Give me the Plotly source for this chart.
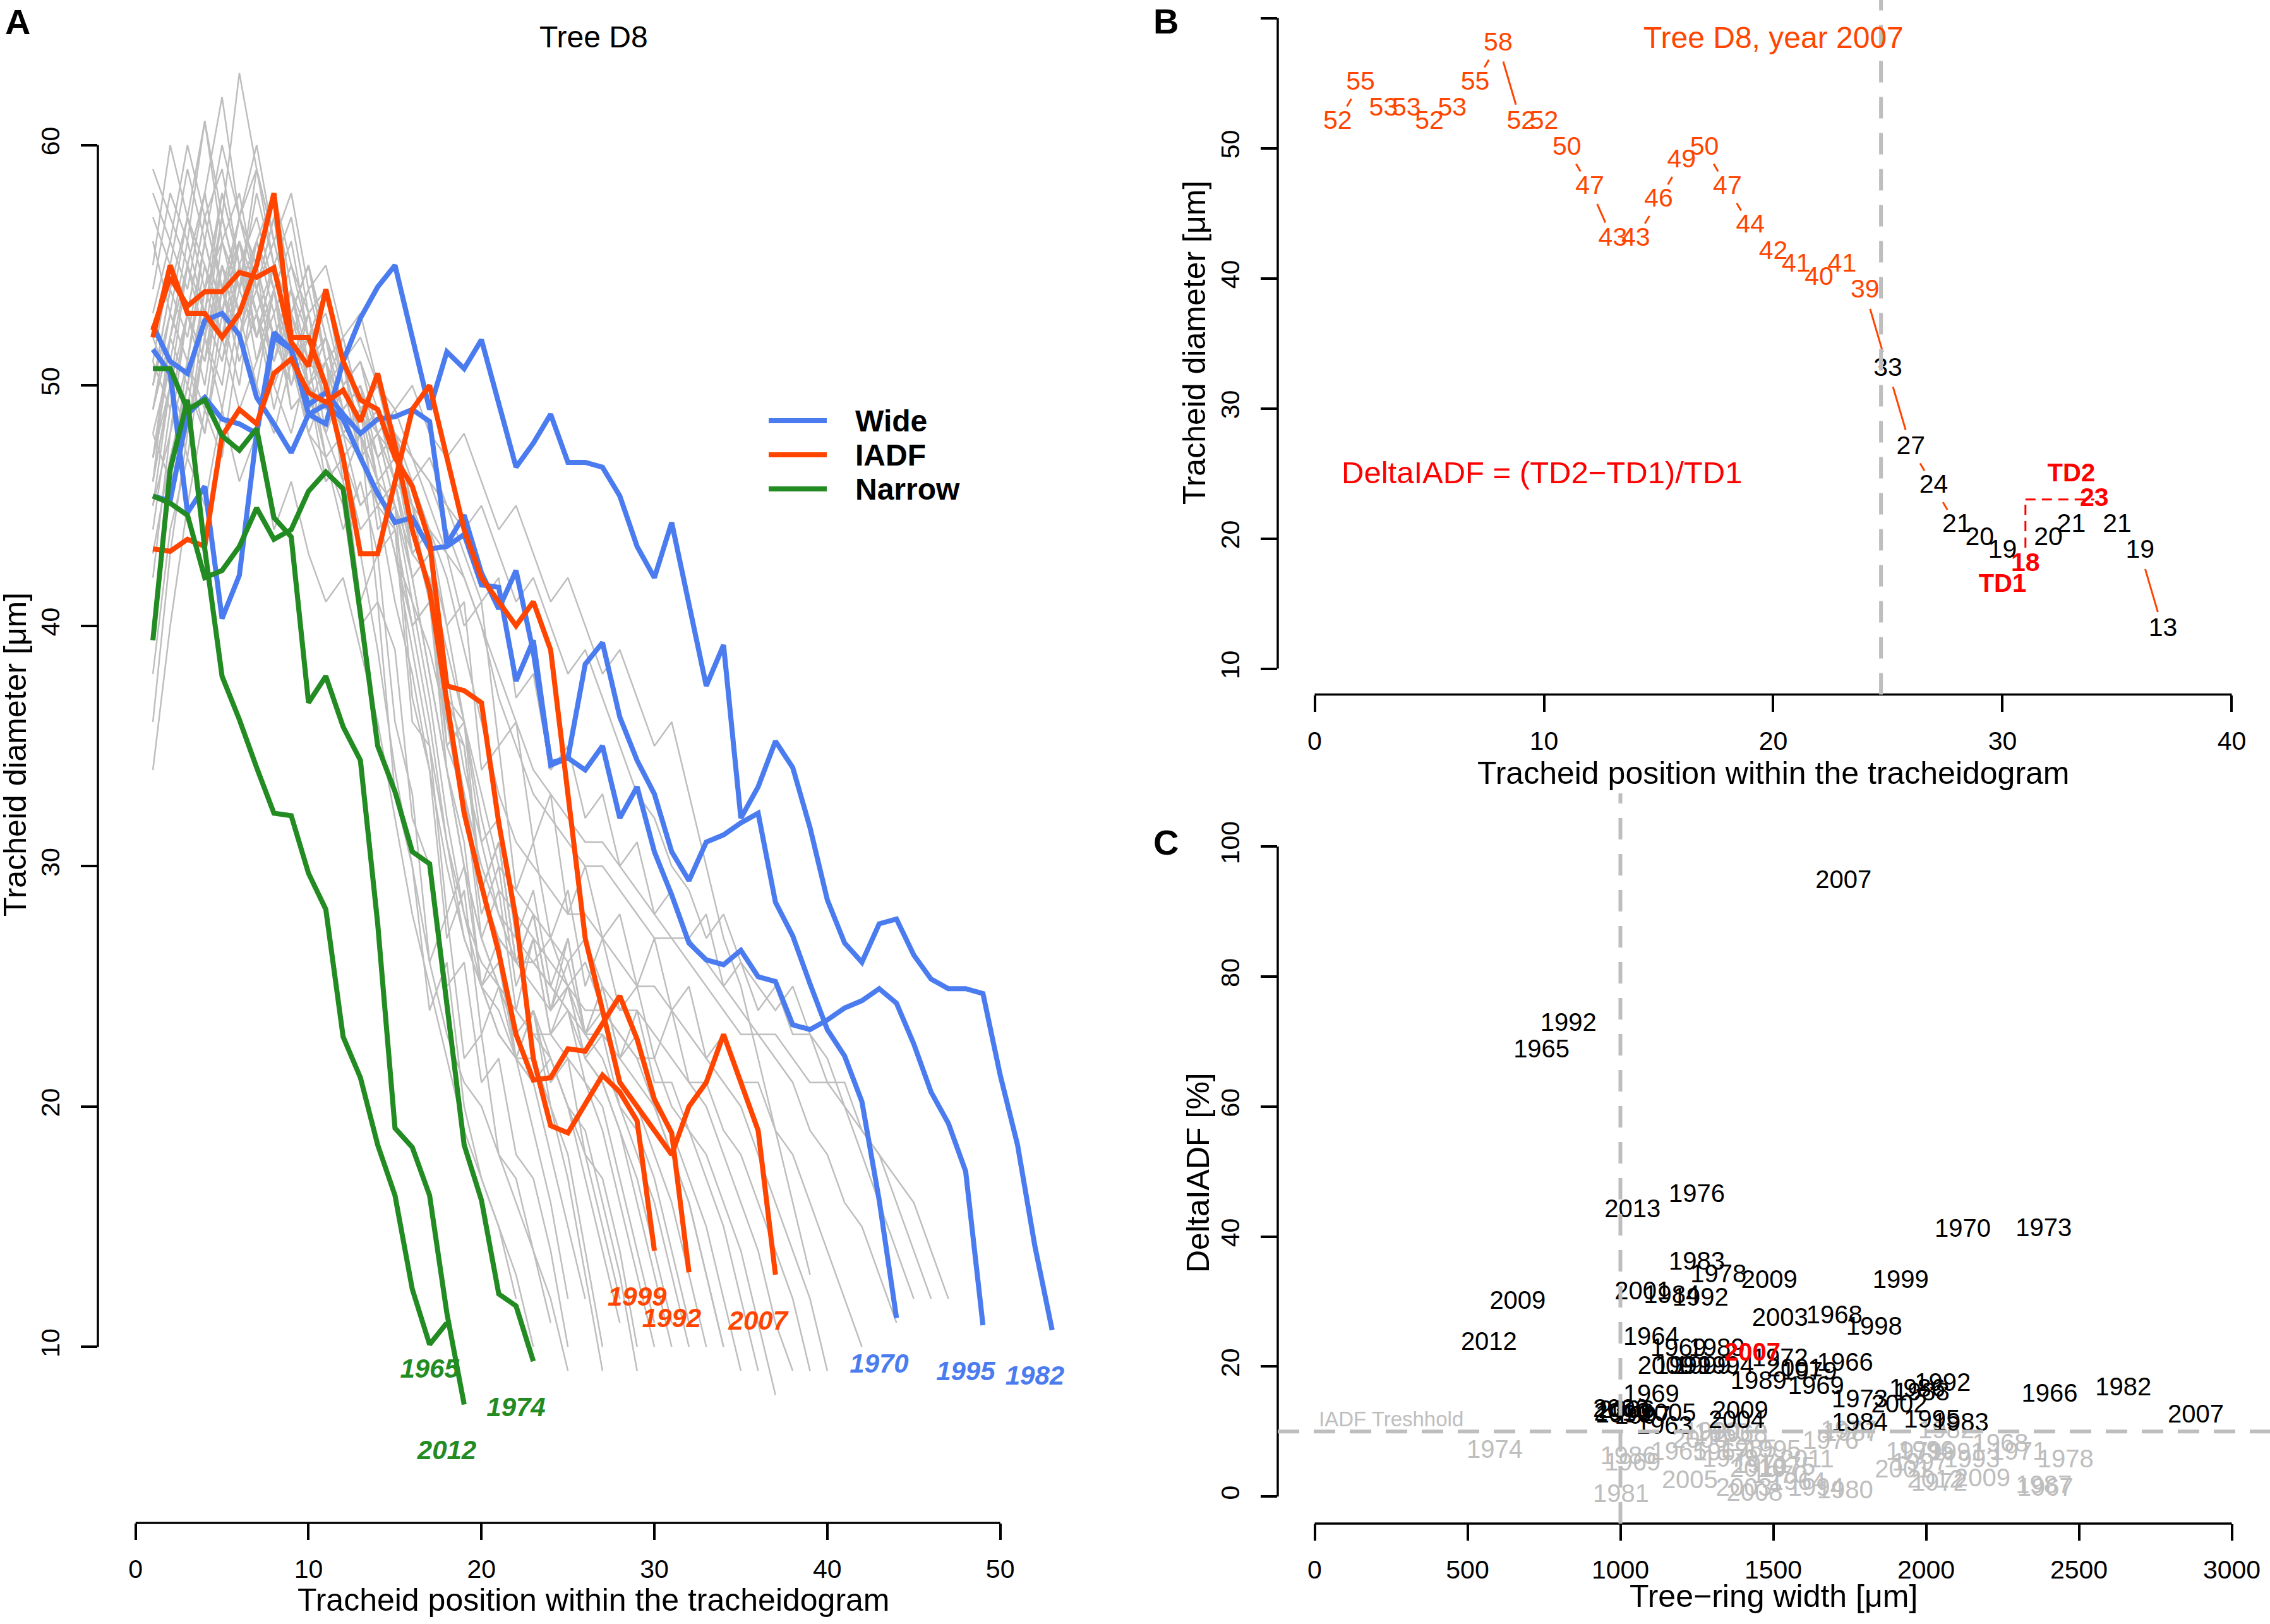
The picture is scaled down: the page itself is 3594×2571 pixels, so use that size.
import plotly.graph_objects as go

W, H = 3594, 2571
FONT = "Liberation Sans, Arial, Helvetica, sans-serif"
BLUE = "#4A7CF0"
ORANGE = "#FF4500"
GREEN = "#228B22"
GREY = "#BEBEBE"
RED = "#FF0000"

# ---------------- Panel A : tracheidograms of tree D8 ----------------
grey_01 = [51,55,53,57,54,52,55,50,48,51,47,45,40,41,33,30,24,26,20,17,15,12]
grey_02 = [46,52,56,53,58,55,51,54,49,50,46,47,41,43,36,33,26,28,22,23,18,17,14,11]
grey_03 = [55,60,57,61,56,58,54,57,52,50,51,46,48,41,39,32,30,25,26,21,22,18,17,14,10]
grey_04 = [42,48,51,49,54,51,53,49,52,48,46,47,44,45,41,38,34,30,27,25,23,22,21,18,15,12]
grey_05 = [49,53,51,56,53,57,55,52,54,50,52,48,49,44,45,37,34,27,29,23,25,22,19,16,12]
grey_06 = [57,55,59,56,60,57,54,56,53,55,51,49,50,46,43,39,35,31,27,25,24,22,22,20,17,13,9]
grey_07 = [45,50,47,52,49,53,50,48,51,48,47,44,46,43,44,36,35,28,30,25,26,22,24,20,18,14,10]
grey_08 = [36,43,48,52,50,55,53,51,54,50,49,51,47,45,46,42,38,34,30,27,25,24,23,22,20,17,14,11]
grey_09 = [53,56,54,58,62,57,59,55,57,53,54,50,51,48,45,41,37,32,28,26,25,23,24,22,20,18,15,12]
grey_10 = [48,46,50,48,52,49,51,53,49,50,47,48,45,46,43,40,41,34,31,25,27,22,24,21,22,18,17,14,10]
grey_11 = [50,54,57,55,53,56,52,55,51,53,50,48,49,47,44,40,36,31,28,25,23,22,21,22,20,19,16,13,9]
grey_12 = [44,49,53,51,56,54,58,55,52,54,51,49,50,47,48,43,44,36,33,27,29,24,27,23,24,21,20,17,14,11]
grey_13 = [58,56,60,57,59,55,57,54,56,52,53,50,48,49,46,42,38,34,30,27,25,24,23,23,22,21,19,16,13,10]
grey_14 = [47,51,49,54,52,55,53,50,52,49,50,47,48,45,44,40,41,35,33,28,30,25,27,23,25,22,21,19,16,13,10]
grey_15 = [52,50,55,53,57,54,59,56,53,55,51,52,49,47,48,45,41,36,32,29,27,26,26,25,24,22,21,19,17,14,11]
grey_16 = [40,46,51,48,53,50,55,52,50,53,49,51,48,46,47,43,44,37,35,29,31,26,28,24,25,22,23,20,19,17,14,11]
grey_17 = [54,58,56,61,57,63,59,56,58,54,55,52,53,50,48,45,41,37,33,29,27,26,25,24,25,23,22,20,18,16,13,10]
grey_18 = [49,52,50,54,56,53,55,52,54,50,51,49,47,48,45,42,43,35,36,29,31,26,28,24,26,23,24,21,20,18,16,13,10]
grey_19 = [45,48,53,50,55,52,56,54,51,53,50,48,49,46,47,44,41,38,34,31,28,27,26,27,25,24,24,23,22,20,18,16,13,10]
grey_20 = [56,53,57,54,58,55,52,55,53,51,52,49,50,48,46,43,44,36,35,29,31,26,28,24,27,23,25,22,23,20,19,17,15,12,9]
grey_21 = [47,52,55,58,54,57,55,58,54,52,54,51,49,50,47,45,43,40,36,32,29,28,27,26,25,26,24,23,22,22,20,19,17,15,12,9]
grey_22 = [51,49,53,51,55,52,54,51,53,50,48,50,47,45,46,42,43,37,36,31,32,27,29,25,27,23,25,22,24,21,21,19,18,16,14,11,8]
grey_23 = [43,47,50,53,51,54,52,55,52,50,51,48,49,46,45,43,42,39,36,33,30,29,28,27,26,27,25,24,24,23,22,21,20,18,16,14,11,9]
grey_24 = [50,54,52,56,53,57,60,56,53,55,52,50,51,48,47,45,44,40,41,34,35,29,31,27,29,25,27,24,25,22,24,21,21,19,18,16,14,12,9]
grey_25 = [46,50,48,52,55,53,56,54,51,53,50,51,49,47,48,46,44,42,39,36,33,31,30,29,28,28,27,26,25,25,24,23,22,21,20,18,16,14,12,9]
grey_26 = [52,55,53,57,54,56,54,57,53,55,52,50,51,49,48,47,45,43,40,41,35,36,31,33,28,30,27,28,25,27,24,25,22,23,21,21,19,18,16,14,12,10]
grey_27 = [48,51,55,52,57,54,56,53,55,52,54,51,49,50,48,47,46,44,42,40,37,35,33,32,31,30,30,29,28,27,27,26,25,24,23,23,22,21,19,18,16,15,13,11]
grey_28 = [50,53,51,55,52,56,54,52,54,51,50,52,49,48,49,47,46,45,43,41,42,37,38,34,35,32,33,30,31,28,29,27,28,25,26,24,25,23,23,21,21,19,18,16,14,12]
grey_29 = [38,44,47,45,49,46,48,44,46,43,41,42,39,36,32,28,25,22,19,17,15,13,10]
grey_30 = [59,57,55,58,54,56,53,55,51,52,48,46,43,39,34,30,26,23,21,20,18,16,14,12,9]
grey_31 = [34,40,45,49,47,52,50,54,51,48,50,47,45,46,43,41,39,36,33,30,28,26,26,25,24,23,23,22,21,20,18,16,13,10]
grey_32 = [47,50,53,51,54,51,53,50,52,49,51,48,47,48,46,45,44,43,42,40,38,36,34,33,32,31,31,30,29,28,27,27,26,25,24,23,23,22,21,21,20,19,18,17,16,14,12]
grey_33 = [49,52,55,53,57,54,56,58,55,53,54,51,52,50,49,50,48,47,48,46,44,45,43,41,42,40,38,39,37,35,36,33,30,27,25,22,19,16,13]
grey_34 = [46,50,48,53,51,55,52,54,50,52,49,51,48,49,47,46,47,45,44,45,43,41,42,40,38,39,37,35,33,32,30,29,27,28,26,25,24,25,23,22,20,18,16,14,12]

wide_1970 = [45.4,45.2,48.8,49.5,48.6,48.4,48.0,52.0,51.5,49.2,49.7,48.8,48.0,48.6,48.7,49.0,48.5,43.4,44.6,42.2,
             40.7,42.3,38.9,34.3,34.5,38.4,39.3,36.2,34.4,33.0,30.6,29.4,31.0,31.3,31.8,32.2,28.5,27.1,25.1,23.2,
             22.1,20.2,16.1,11.2]
wide_1995 = [52.5,51.0,50.5,52.7,53.0,52.1,49.5,48.4,47.2,48.8,49.2,48.6,47.0,45.5,44.3,44.5,43.2,43.3,43.8,41.7,
             41.6,37.7,39.4,34.2,34.5,34.0,35.0,32.0,33.3,30.6,28.8,26.8,26.1,25.9,26.5,25.4,25.2,23.4,23.2,23.6,
             24.1,24.4,24.9,24.3,22.6,20.6,19.3,17.3,10.9]
wide_1982 = [51.5,50.5,44.7,45.8,40.3,42.1,48.0,52.2,51.5,48.8,48.4,51.0,52.8,54.1,55.0,52.0,49.0,51.4,50.7,51.9,
             49.3,46.6,47.6,48.8,46.8,46.8,46.6,45.4,43.3,42.0,44.3,41.0,37.5,39.2,32.0,33.3,35.2,34.1,31.6,28.6,
             26.8,26.0,27.6,27.8,26.3,25.3,24.9,24.9,24.7,21.3,18.4,14.2,10.7]
iadf_1999 = [52.3,54.5,53.3,53.9,53.9,54.7,54.5,54.9,51.8,50.8,54.0,51.0,49.4,49.0,47.0,45.8,43.5,37.5,37.3,36.8,
             31.8,27.8,22.0,19.2,18.9,20.1,21.3,20.6,19.4,14.0]
iadf_1992 = [43.2,43.1,43.6,43.3,47.9,49.0,48.4,50.5,51.1,49.7,49.3,49.8,48.5,50.5,47.5,44.0,41.5,36.8,32.2,29.2,
             26.4,23.0,21.1,21.2,22.4,22.3,23.5,24.6,22.8,20.3,18.9,13.1]
iadf_2007 = [52,55,53,53,52,53,55,58,52,52,50,47,43,43,46,49,50,47,44,42,41,40,41,39,33,27,24,21,20,19,18,20,21,23,21,19,13]
narrow_1965 = [39.4,46.5,49.4,43.2,37.9,36.1,34.1,32.2,32.1,29.7,28.2,22.9,21.2,18.4,16.3,12.4,10.1,11.0]
narrow_2012 = [50.7,50.7,49.0,49.4,47.9,47.3,48.2,44.5,43.7,36.8,37.9,35.8,34.4,27.6,19.1,18.3,16.3,11.4,7.6]
narrow_1974 = [45.4,45.1,44.6,42.0,42.3,43.3,44.9,43.6,44.0,45.6,46.4,45.7,40.5,35.0,33.1,30.6,30.1,24.4,18.4,16.1,
               12.2,11.7,9.4]

groups = ["Wide", "IADF", "Narrow"]
group_colors = [BLUE, ORANGE, GREEN]

# ---------------- Panel B : tree D8, year 2007 ----------------
b_position = list(range(1, 38))
b_diameter = iadf_2007
b_latewood_start = 24.7
b_td1 = (31, 18)
b_td2 = (34, 23)

# ---------------- Panel C : DeltaIADF vs ring width ----------------
c_black_year = ["2007","1992","1965","1976","2013","1970","1973","1983","1978","2009","1999","2009","2001","1984",
                "1992","2003","1968","1998","2012","1964","1969","1989","2009","1999","1999","1994","1972","2001",
                "1979","1966","1989","1969","1969","1973","2002","1986","1988","1992","1966","1982","2007","1995",
                "1983","1984","2009","2004","2000","2010","1990","2006","2005","1963","1997"]
c_black_width = [1730,830,742,1250,1040,2120,2385,1250,1321,1487,1917,664,1073,1168,
                 1262,1522,1700,1830,570,1101,1190,1315,1148,1205,1270,1345,1522,1570,
                 1617,1735,1452,1640,1101,1783,1912,1971,1985,2054,2404,2645,2882,2019,
                 2113,1783,1392,1380,1002,1005,1010,1020,1156,1144,1073]
c_black_delta = [94.6,72.6,68.5,46.3,43.9,40.9,41.0,35.9,33.9,33.1,33.1,29.9,31.3,30.7,
                 30.3,27.2,27.6,25.9,23.5,24.3,22.6,22.6,19.8,19.8,19.8,19.8,21.0,19.5,
                 19.0,20.3,17.5,16.7,15.5,14.7,13.9,16.3,15.8,17.2,15.6,16.5,12.4,11.6,
                 11.1,11.1,12.9,11.5,13.2,12.7,12.4,13.0,12.6,10.6,12.2]
c_grey_year = ["1974","1981","1986","1969","1965","2005","2003","2008","1994","1980","1975","1995","1976","1977",
               "1987","1963","1990","1968","1967","1979","1971","1985","1979","2001","1972","2012","2009","1987",
               "1967","1978","1971","1968","1982","1991","1993","1996","1997","2011","1964","2000","1970","2010"]
c_grey_width = [589,1002,1026,1040,1191,1227,1404,1439,1640,1735,1546,1499,1688,1747,
                1755,1333,1300,1390,1330,1360,1460,1420,1960,1924,2043,2030,2184,2385,
                2390,2456,2302,2243,2066,2100,2150,2000,1980,1610,1580,1260,1520,1450]
c_grey_delta = [6.9,0.1,5.9,5.0,6.6,2.3,1.1,0.3,1.1,0.7,4.3,6.9,8.3,9.9,
                9.5,9.5,9.7,9.3,6.5,5.6,4.6,7.0,6.6,3.9,1.9,2.4,2.5,1.5,
                1.1,5.5,6.6,7.9,9.9,6.5,5.5,6.8,5.0,5.5,2.0,8.5,3.0,4.0]
c_red_year = ["2007"]
c_red_width = [1432]
c_red_delta = [21.9]
c_threshold = 10
c_width_limit = 1000


def px(X):
    return X / W


def py(Y):
    return 1 - Y / H


def ann(text, X, Y, size, color="black", angle=0, xanchor="center", yanchor="middle"):
    return dict(text=text, x=px(X), y=py(Y), xref="paper", yref="paper", showarrow=False,
                font=dict(family=FONT, size=size, color=color), textangle=angle,
                xanchor=xanchor, yanchor=yanchor)


fig = go.Figure()

# ---- Panel A traces
grey_series = [grey_01, grey_02, grey_03, grey_04, grey_05, grey_06, grey_07, grey_08, grey_09, grey_10,
               grey_11, grey_12, grey_13, grey_14, grey_15, grey_16, grey_17, grey_18, grey_19, grey_20,
               grey_21, grey_22, grey_23, grey_24, grey_25, grey_26, grey_27, grey_28, grey_29, grey_30,
               grey_31, grey_32, grey_33, grey_34]
for s in grey_series:
    fig.add_trace(go.Scatter(x=list(range(1, len(s) + 1)), y=s, mode="lines",
                             line=dict(color=GREY, width=2.5), xaxis="x", yaxis="y",
                             hoverinfo="skip", showlegend=False))

colored = [
    ("1970", wide_1970, BLUE), ("1995", wide_1995, BLUE), ("1982", wide_1982, BLUE),
    ("1999", iadf_1999, ORANGE), ("1992", iadf_1992, ORANGE), ("2007", iadf_2007, ORANGE),
    ("1965", narrow_1965, GREEN), ("2012", narrow_2012, GREEN), ("1974", narrow_1974, GREEN),
]
for yr, s, col in colored:
    fig.add_trace(go.Scatter(x=list(range(1, len(s) + 1)), y=s, mode="lines",
                             line=dict(color=col, width=8), xaxis="x", yaxis="y",
                             name=yr, showlegend=False))
fig.add_trace(go.Scatter(
    x=[len(s) - 1 for _, s, _ in colored], y=[s[-1] - 2 for _, s, _ in colored],
    text=[f"<b><i>{yr}</i></b>" for yr, _, _ in colored], mode="text",
    textfont=dict(family=FONT, size=42, color=[c for _, _, c in colored]),
    textposition="middle center", xaxis="x", yaxis="y", showlegend=False, hoverinfo="skip"))

# ---- Panel B traces
b_colors = []
b_text = []
for p, d in zip(b_position, b_diameter):
    if (p, d) in (b_td1, b_td2):
        b_colors.append(RED)
        b_text.append(f"<b>{d}</b>")
    elif p < b_latewood_start:
        b_colors.append(ORANGE)
        b_text.append(str(d))
    else:
        b_colors.append("black")
        b_text.append(str(d))
fig.add_trace(go.Scatter(
    x=b_position, y=b_diameter, text=b_text, mode="lines+markers+text",
    line=dict(color=ORANGE, width=3),
    marker=dict(symbol="circle", size=58, color="white", line=dict(width=0)),
    textfont=dict(family=FONT, size=41, color=b_colors), textposition="middle center",
    xaxis="x2", yaxis="y2", showlegend=False, hoverinfo="skip"))
fig.add_trace(go.Scatter(
    x=[b_td1[0] - 1, b_td2[0] - 1], y=[b_td1[1] - 1.6, b_td2[1] + 1.9],
    text=["<b>TD1</b>", "<b>TD2</b>"], mode="text",
    textfont=dict(family=FONT, size=40, color=RED), textposition="middle center",
    xaxis="x2", yaxis="y2", showlegend=False, hoverinfo="skip"))

# ---- Panel C traces
fig.add_trace(go.Scatter(x=c_grey_width, y=c_grey_delta, text=c_grey_year, mode="text",
                         textfont=dict(family=FONT, size=40, color=GREY), textposition="middle center",
                         xaxis="x3", yaxis="y3", showlegend=False, hoverinfo="skip"))
fig.add_trace(go.Scatter(x=c_black_width, y=c_black_delta, text=c_black_year, mode="text",
                         textfont=dict(family=FONT, size=40, color="black"), textposition="middle center",
                         xaxis="x3", yaxis="y3", showlegend=False, hoverinfo="skip"))
fig.add_trace(go.Scatter(x=c_red_width, y=c_red_delta, text=[f"<b>{t}</b>" for t in c_red_year], mode="text",
                         textfont=dict(family=FONT, size=40, color=RED), textposition="middle center",
                         xaxis="x3", yaxis="y3", showlegend=False, hoverinfo="skip"))

# ---- axes
tickfont = dict(family=FONT, size=41, color="black")


def axis(domain, rng, dtick, is_y, anchor):
    d = dict(domain=domain, range=rng, dtick=dtick, tick0=0, showgrid=False, zeroline=False,
             showline=False, ticks="outside", ticklen=26, tickwidth=3.5, tickcolor="black",
             tickfont=tickfont, anchor=anchor, ticklabelstandoff=18 if is_y else 11)
    if is_y:
        d["tickangle"] = -90
    return d


fig.update_layout(
    width=W, height=H, margin=dict(l=0, r=0, t=0, b=0),
    paper_bgcolor="white", plot_bgcolor="white", showlegend=False,
    xaxis=axis([px(155), px(1766)], [-2.18, 56.66], 10, False, "y"),
    yaxis=axis([py(2411), py(27)], [2.673, 65.327], 10, True, "x"),
    xaxis2=axis([px(2023), px(3594)], [-1.6116, 41.667], 10, False, "y2"),
    yaxis2=axis([py(1099.6), py(0)], [8.01, 61.388], 10, True, "x2"),
    xaxis3=axis([px(2023), px(3594)], [-120.87, 3125.0], 500, False, "y3"),
    yaxis3=axis([py(2412), py(1256)], [-4.16, 108.18], 20, True, "x3"),
)

shapes = []
axis_line = dict(color="black", width=3.5)
# R-style axis lines spanning first to last tick
for xr, yr, y0, y1 in [("x", "y", 10, 60), ("x2", "y2", 10, 60), ("x3", "y3", 0, 100)]:
    shapes.append(dict(type="line", xref=f"{xr} domain", x0=0, x1=0, yref=yr, y0=y0, y1=y1,
                       line=axis_line, layer="above"))
for xr, yr, x0, x1 in [("x", "y", 0, 50), ("x2", "y2", 0, 40), ("x3", "y3", 0, 3000)]:
    shapes.append(dict(type="line", xref=xr, x0=x0, x1=x1, yref=f"{yr} domain", y0=0, y1=0,
                       line=axis_line, layer="above"))
# dashed reference lines
dash_grey = dict(color=GREY, width=6, dash="34px,23px")
shapes.append(dict(type="line", xref="x2", x0=b_latewood_start, x1=b_latewood_start, yref="y2 domain",
                   y0=0, y1=1, line=dash_grey, layer="above"))
shapes.append(dict(type="line", xref="x2", x0=b_td1[0], x1=b_td1[0], yref="y2", y0=b_td1[1] + 1.3, y1=b_td2[1],
                   line=dict(color=RED, width=3, dash="16px,10px"), layer="above"))
shapes.append(dict(type="line", xref="x2", x0=b_td1[0], x1=b_td2[0], yref="y2", y0=b_td2[1], y1=b_td2[1],
                   line=dict(color=RED, width=3, dash="16px,10px"), layer="above"))
shapes.append(dict(type="line", xref="x3", x0=c_width_limit, x1=c_width_limit, yref="y3 domain",
                   y0=0, y1=1, line=dash_grey, layer="above"))
shapes.append(dict(type="line", xref="x3 domain", x0=0, x1=1, yref="y3", y0=c_threshold, y1=c_threshold,
                   line=dash_grey, layer="above"))
# legend of panel A
for i, (g, col) in enumerate(zip(groups, group_colors)):
    Y = 666 + 54 * i
    shapes.append(dict(type="line", xref="paper", yref="paper", x0=px(1217), x1=px(1309),
                       y0=py(Y), y1=py(Y), line=dict(color=col, width=8)))

annotations = [
    ann("<b>A</b>", 28, 34, 56),
    ann("<b>B</b>", 1846, 33, 56),
    ann("<b>C</b>", 1846, 1333, 56),
    ann("Tree D8", 940, 58, 48),
    ann("Tracheid position within the tracheidogram", 940, 2533, 50),
    ann("Tracheid diameter [μm]", 24, 1195, 50, angle=-90),
    ann("Tree D8, year 2007", 2808, 59, 48, color=ORANGE),
    ann("Tracheid position within the tracheidogram", 2808, 1224, 50),
    ann("Tracheid diameter [μm]", 1891, 543, 50, angle=-90),
    ann("Tree−ring width [μm]", 2808, 2527, 50),
    ann("DeltaIADF [%]", 1897, 1857, 50, angle=-90),
    dict(text="DeltaIADF = (TD2−TD1)/TD1", x=9.9, y=25.1, xref="x2", yref="y2", showarrow=False,
         font=dict(family=FONT, size=49, color=RED), xanchor="center", yanchor="middle"),
    dict(text="IADF Treshhold", x=9, y=11.9, xref="x3", yref="y3", showarrow=False,
         font=dict(family=FONT, size=33, color=GREY), xanchor="left", yanchor="middle"),
]
for i, g in enumerate(groups):
    annotations.append(ann(f"<b>{g}</b>", 1352, 666 + 54 * i, 48, xanchor="left"))

fig.update_layout(shapes=shapes, annotations=annotations)

fig.write_html("out.html", config={"displayModeBar": False},
               post_script="document.body.style.margin='0';")
